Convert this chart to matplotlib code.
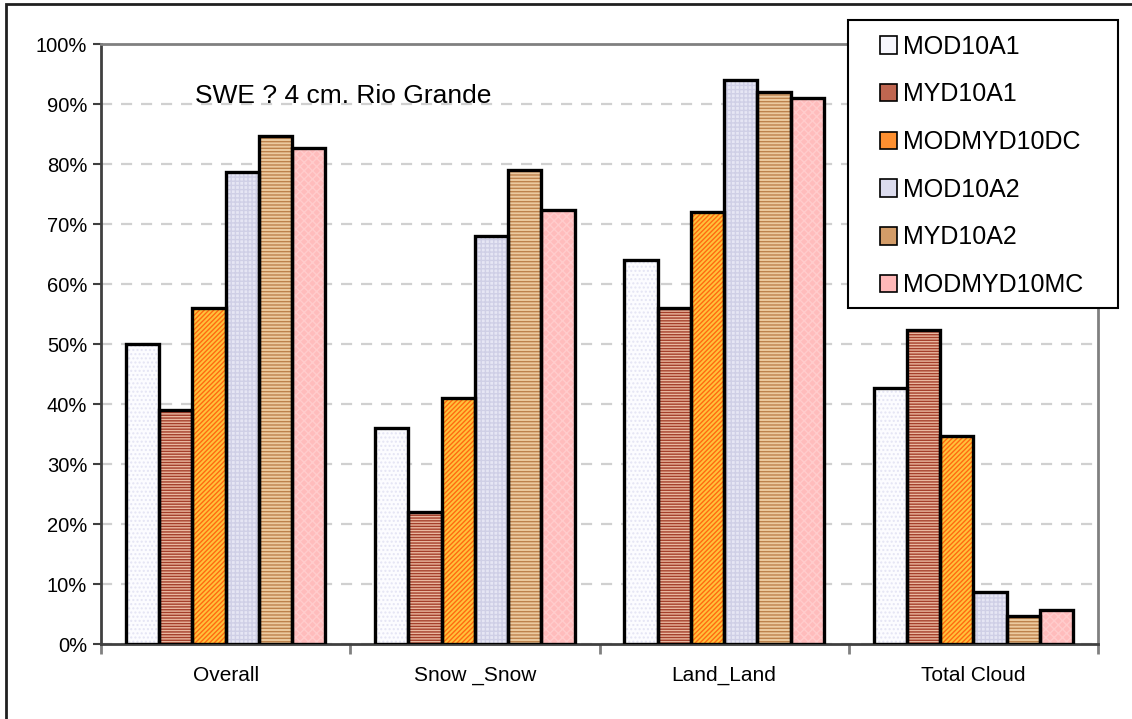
import numpy as np
import matplotlib
matplotlib.use("Agg")
import matplotlib.pyplot as plt
from matplotlib.patches import Patch, Rectangle

plt.rcParams["font.family"] = ["Liberation Sans", "DejaVu Sans"]
plt.rcParams["hatch.linewidth"] = 1.0

categories = ["Overall", "Snow _Snow", "Land_Land", "Total Cloud"]
series = ["MOD10A1", "MYD10A1", "MODMYD10DC", "MOD10A2", "MYD10A2", "MODMYD10MC"]
mod10a1 = [50, 36, 64, 42.7]
myd10a1 = [39, 22, 56, 52.3]
modmyd10dc = [56, 41, 72, 34.7]
mod10a2 = [78.7, 68, 94, 8.7]
myd10a2 = [84.7, 79, 92, 4.7]
modmyd10mc = [82.7, 72.3, 91, 5.7]
values = [mod10a1, myd10a1, modmyd10dc, mod10a2, myd10a2, modmyd10mc]

# face, hatch, hatch colour, legend swatch colour
styles = [
    ("#fcfcff", "....", "#e4e4f4", "#f6f6fc"),
    ("#eab8a0", "------", "#a43e2a", "#c06650"),
    ("#ffc23c", "///////", "#ff6a10", "#ff9030"),
    ("#e6e6f4", "++++", "#cfcfe6", "#dcdcee"),
    ("#eccaa0", "-----", "#bd824c", "#d39c68"),
    ("#ffbcbc", "xxxx", "#ffcccc", "#ffb8b8"),
]

fig = plt.figure(figsize=(11.32, 7.19), dpi=100)
ax = fig.add_axes([101 / 1132, 1 - 644 / 719, (1098 - 101) / 1132, (644 - 44) / 719])

x = np.arange(len(categories))
w = 0.8 / len(series)
for i, (vals, (fc, h, hc, _)) in enumerate(zip(values, styles)):
    pos = x - 0.4 + w * (i + 0.5)
    ax.bar(pos, vals, w, color=fc, hatch=h, edgecolor=hc, linewidth=0, zorder=2)
    ax.bar(pos, vals, w, fill=False, edgecolor="black", linewidth=2.4, zorder=3)

ax.set_xlim(-0.5, len(categories) - 0.5)
ax.set_ylim(0, 100)
ax.set_yticks(np.arange(0, 101, 10))
ax.set_yticklabels([f"{v}%" for v in range(0, 101, 10)], fontsize=14.5)
ax.set_xticks(x)
ax.set_xticklabels(categories, fontsize=15)
ax.tick_params(axis="x", length=0, pad=16)
ax.set_xticks(np.arange(-0.5, len(categories)), minor=True)
ax.tick_params(axis="x", which="minor", length=7, color="#808080", width=2)
ax.tick_params(axis="y", length=6, color="#404040", width=1.5, pad=4)
ax.yaxis.grid(True, color="#d0d0d0", linestyle=(0, (5, 4)), linewidth=1.6)
ax.set_axisbelow(True)
for s in ("top", "right"):
    ax.spines[s].set_color("#808080")
    ax.spines[s].set_linewidth(2)
for s in ("left", "bottom"):
    ax.spines[s].set_color("#404040")
    ax.spines[s].set_linewidth(2)

ax.text(195 / 1132, 1 - 103 / 719, "SWE ? 4 cm. Rio Grande", transform=fig.transFigure,
        fontsize=19, ha="left", va="baseline")

# legend box drawn by hand so it can be as wide as the original
fig.add_artist(Rectangle((848 / 1132, 1 - 308 / 719), (1118 - 848) / 1132, (308 - 20) / 719,
                         transform=fig.transFigure, facecolor="white", edgecolor="black",
                         linewidth=1.5, zorder=9))
handles = [Patch(facecolor=st[3], edgecolor="black", linewidth=1.2) for st in styles]
leg = fig.legend(handles, series, loc="upper left",
                 bbox_to_anchor=(872 / 1132, 1 - 27 / 719), fontsize=18,
                 frameon=False, handlelength=0.7, handleheight=0.7, handletextpad=0.25,
                 labelspacing=0.95, borderpad=0.3, borderaxespad=0)
leg.set_zorder(10)

# outer chart frame (cut off at right and bottom)
fig.add_artist(Rectangle((6 / 1132, -0.1), 1.2, 1 - 4 / 719 + 0.1, transform=fig.transFigure,
                         fill=False, edgecolor="#202020", linewidth=2))

fig.savefig("out.png", dpi=100)
